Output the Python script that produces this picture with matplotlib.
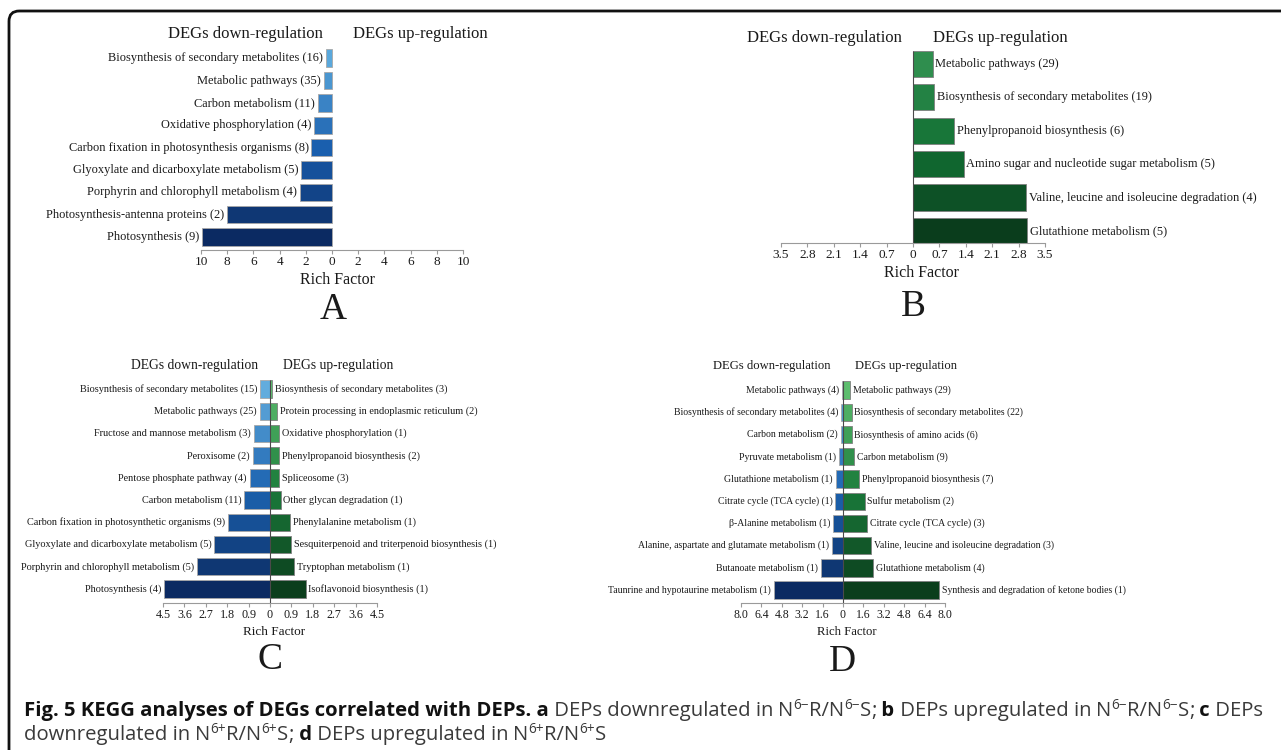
import numpy as np
import matplotlib
matplotlib.use('Agg')
import matplotlib.pyplot as plt
from matplotlib.patches import FancyBboxPatch
from matplotlib.colors import LinearSegmentedColormap

# ---------------- data (top row first) ----------------
a_down_terms = ['Biosynthesis of secondary metabolites (16)', 'Metabolic pathways (35)',
                'Carbon metabolism (11)', 'Oxidative phosphorylation (4)',
                'Carbon fixation in photosynthesis organisms (8)',
                'Glyoxylate and dicarboxylate metabolism (5)',
                'Porphyrin and chlorophyll metabolism (4)',
                'Photosynthesis-antenna proteins (2)', 'Photosynthesis (9)']
a_down_vals = [0.46, 0.63, 1.09, 1.39, 1.57, 2.33, 2.45, 8.0, 9.9]

b_up_terms = ['Metabolic pathways (29)', 'Biosynthesis of secondary metabolites (19)',
              'Phenylpropanoid biosynthesis (6)', 'Amino sugar and nucleotide sugar metabolism (5)',
              'Valine, leucine and isoleucine degradation (4)', 'Glutathione metabolism (5)']
b_up_vals = [0.52, 0.56, 1.10, 1.34, 2.99, 3.03]

c_down_terms = ['Biosynthesis of secondary metabolites (15)', 'Metabolic pathways (25)',
                'Fructose and mannose metabolism (3)', 'Peroxisome (2)',
                'Pentose phosphate pathway (4)', 'Carbon metabolism (11)',
                'Carbon fixation in photosynthetic organisms (9)',
                'Glyoxylate and dicarboxylate metabolism (5)',
                'Porphyrin and chlorophyll metabolism (5)', 'Photosynthesis (4)']
c_down_vals = [0.42, 0.44, 0.68, 0.73, 0.86, 1.08, 1.76, 2.35, 3.07, 4.44]
c_up_terms = ['Biosynthesis of secondary metabolites (3)',
              'Protein processing in endoplasmic reticulum (2)',
              'Oxidative phosphorylation (1)', 'Phenylpropanoid biosynthesis (2)',
              'Spliceosome (3)', 'Other glycan degradation (1)',
              'Phenylalanine metabolism (1)',
              'Sesquiterpenoid and triterpenoid biosynthesis (1)',
              'Tryptophan metabolism (1)', 'Isoflavonoid biosynthesis (1)']
c_up_vals = [0.10, 0.31, 0.37, 0.38, 0.39, 0.45, 0.84, 0.89, 1.01, 1.50]

d_down_terms = ['Metabolic pathways (4)', 'Biosynthesis of secondary metabolites (4)',
                'Carbon metabolism (2)', 'Pyruvate metabolism (1)',
                'Glutathione metabolism (1)', 'Citrate cycle (TCA cycle) (1)',
                'β-Alanine metabolism (1)', 'Alanine, aspartate and glutamate metabolism (1)',
                'Butanoate metabolism (1)', 'Taunrine and hypotaurine metabolism (1)']
d_down_vals = [0.08, 0.13, 0.18, 0.31, 0.57, 0.62, 0.75, 0.85, 1.75, 5.45]
d_up_terms = ['Metabolic pathways (29)', 'Biosynthesis of secondary metabolites (22)',
              'Biosynthesis of amino acids (6)', 'Carbon metabolism (9)',
              'Phenylpropanoid biosynthesis (7)', 'Sulfur metabolism (2)',
              'Citrate cycle (TCA cycle) (3)', 'Valine, leucine and isoleucine degradation (3)',
              'Glutathione metabolism (4)', 'Synthesis and degradation of ketone bodies (1)']
d_up_vals = [0.54, 0.67, 0.67, 0.90, 1.26, 1.70, 1.88, 2.19, 2.39, 7.56]

a_ticks = [0, 2, 4, 6, 8, 10]
b_ticks = [0, 0.7, 1.4, 2.1, 2.8, 3.5]
c_ticks = [0, 0.9, 1.8, 2.7, 3.6, 4.5]
d_ticks = [0, 1.6, 3.2, 4.8, 6.4, 8.0]

# ---------------- styling ----------------
W, H = 1281, 750
plt.rcParams['font.family'] = ['Liberation Serif', 'DejaVu Serif']
CAP_FONT = ['Open Sans', 'DejaVu Sans']

fig = plt.figure(figsize=(W / 100, H / 100), dpi=100)


def px_axes(x0, x1, y_top, y_bot):
    return fig.add_axes([x0 / W, 1 - y_bot / H, (x1 - x0) / W, (y_bot - y_top) / H])


def grad(stops, n):
    cm = LinearSegmentedColormap.from_list('g', stops)
    return [cm(t) for t in np.linspace(0, 1, n)]


def panel(ax, xmax, ticks, ylo, down=None, up=None, fs=9, fs_tick=9,
          down_cols=None, up_cols=None, zero_line=True, dec=1):
    n = len(down[0]) if down else len(up[0])
    y = np.arange(n)[::-1]
    hgt = 0.78
    if down:
        ax.barh(y, -np.array(down[1]), height=hgt, color=down_cols,
                edgecolor='#a8a8a8', linewidth=0.6, zorder=2)
        for yi, v, t in zip(y, down[1], down[0]):
            ax.annotate(t, (-v, yi), xytext=(-2, 0), textcoords='offset points',
                        ha='right', va='center', fontsize=fs, color='#1a1a1a')
    if up:
        ax.barh(y, up[1], height=hgt, color=up_cols,
                edgecolor='#808080', linewidth=0.6, zorder=2)
        for yi, v, t in zip(y, up[1], up[0]):
            ax.annotate(t, (v, yi), xytext=(2, 0), textcoords='offset points',
                        ha='left', va='center', fontsize=fs, color='#1a1a1a')
    if zero_line:
        ax.vlines(0, ylo, n - 1 + hgt / 2, color='#4a4a4a', lw=0.8, zorder=3)
    ax.set_xlim(-xmax, xmax)
    ax.set_ylim(ylo, n - 0.5)
    tk = sorted(set([-t for t in ticks] + ticks))
    ax.set_xticks(tk)
    ax.set_xticklabels(['0' if t == 0 else f'{abs(t):.{dec}f}' for t in tk],
                       fontsize=fs_tick, color='#1a1a1a')
    ax.set_yticks([])
    for s in ['top', 'right', 'left']:
        ax.spines[s].set_visible(False)
    ax.spines['bottom'].set_color('#9a9a9a')
    ax.tick_params(axis='x', length=3, width=0.8, color='#9a9a9a', pad=1)
    ax.patch.set_alpha(0)


blues = ['#62acdd', '#1c63b0', '#0b2a62']
greens = ['#5cbd6e', '#1a7a3a', '#0b3e1c']

# Panel A
axA = px_axes(201, 463, 47, 250)
panel(axA, 10, a_ticks, -0.58, down=(a_down_terms, a_down_vals), fs=8.9, fs_tick=9.5,
      down_cols=grad(['#5aa8dc', '#1a5fae', '#0b2a62'], len(a_down_vals)),
      zero_line=False, dec=0)
# Panel B
axB = px_axes(781, 1045, 47, 243)
panel(axB, 3.5, b_ticks, -0.36, up=(b_up_terms, b_up_vals), fs=8.9, fs_tick=9.5,
      up_cols=grad(['#2f8e4e', '#127034', '#0a3d1c'], len(b_up_vals)))
# Panel C
axC = px_axes(163, 377, 378, 603)
panel(axC, 4.5, c_ticks, -0.63, down=(c_down_terms, c_down_vals), up=(c_up_terms, c_up_vals),
      fs=7.4, fs_tick=8.7, down_cols=grad(blues, 10), up_cols=grad(greens, 10))
# Panel D
axD = px_axes(741, 945, 379, 603)
panel(axD, 8, d_ticks, -0.58, down=(d_down_terms, d_down_vals), up=(d_up_terms, d_up_vals),
      fs=7.0, fs_tick=8.5, down_cols=grad(blues, 10), up_cols=grad(greens, 10))


def ftxt(x, y, s, **kw):
    fig.text(x / W, 1 - y / H, s, ha='center', va='center', color='#1a1a1a', **kw)


# headers, axis titles, panel letters
for (xd, xu, yh, fsh), (xr, yr, fsr), (xl, yl, lt) in [
        ((245, 420, 34, 12), (337, 280, 11.5), (333, 310, 'A')),
        ((824, 1000, 38, 12), (922, 273, 11.5), (913, 307, 'B')),
        ((195, 338, 365, 9.8), (274, 632, 9.5), (270, 660, 'C')),
        ((772, 906, 366, 9.1), (847, 632, 9.2), (842, 662, 'D'))]:
    ftxt(xd, yh, 'DEGs down-regulation', fontsize=fsh)
    ftxt(xu, yh, 'DEGs up-regulation', fontsize=fsh)
    ftxt(xr, yr, 'Rich Factor', fontsize=fsr)
    ftxt(xl, yl, lt, fontsize=27)

# frame (top and left edges with a rounded corner)
box = FancyBboxPatch((9 / W, -0.2), 1.2, 1 - 11 / H + 0.2,
                     boxstyle='round,pad=0,rounding_size=0.008',
                     transform=fig.transFigure, fill=False, lw=2, ec='#111111',
                     mutation_aspect=W / H)
fig.patches.append(box)

# caption, drawn as runs of text: (string, bold, superscript)
cap_fs = 14.6
renderer = fig.canvas.get_renderer()


def runs(x, y, parts):
    for s, bold, sup in parts:
        fs = cap_fs * 0.68 if sup else cap_fs
        yy = y - 7 if sup else y
        t = fig.text(x / W, 1 - yy / H, s, fontsize=fs, family=CAP_FONT,
                     fontweight='bold' if bold else 'normal',
                     color='#111111' if bold else '#3a3a3a', ha='left', va='baseline')
        x += t.get_window_extent(renderer).width


def ns(sign):
    return [('N', 0, 0), ('6' + sign, 0, 1), ('R/N', 0, 0), ('6' + sign, 0, 1), ('S', 0, 0)]


runs(24, 716, [('Fig. 5 KEGG analyses of DEGs correlated with DEPs. a', 1, 0),
               (' DEPs downregulated in', 0, 0), (' ', 0, 0)] + ns('−') +
     [(';', 0, 0), (' b', 1, 0), (' DEPs upregulated in', 0, 0), (' ', 0, 0)] + ns('−') +
     [(';', 0, 0), (' c', 1, 0), (' DEPs', 0, 0)])
runs(24, 740, [('downregulated in', 0, 0), (' ', 0, 0)] + ns('+') +
     [(';', 0, 0), (' d', 1, 0), (' DEPs upregulated in', 0, 0), (' ', 0, 0)] + ns('+'))

fig.savefig('out.png', dpi=100)
